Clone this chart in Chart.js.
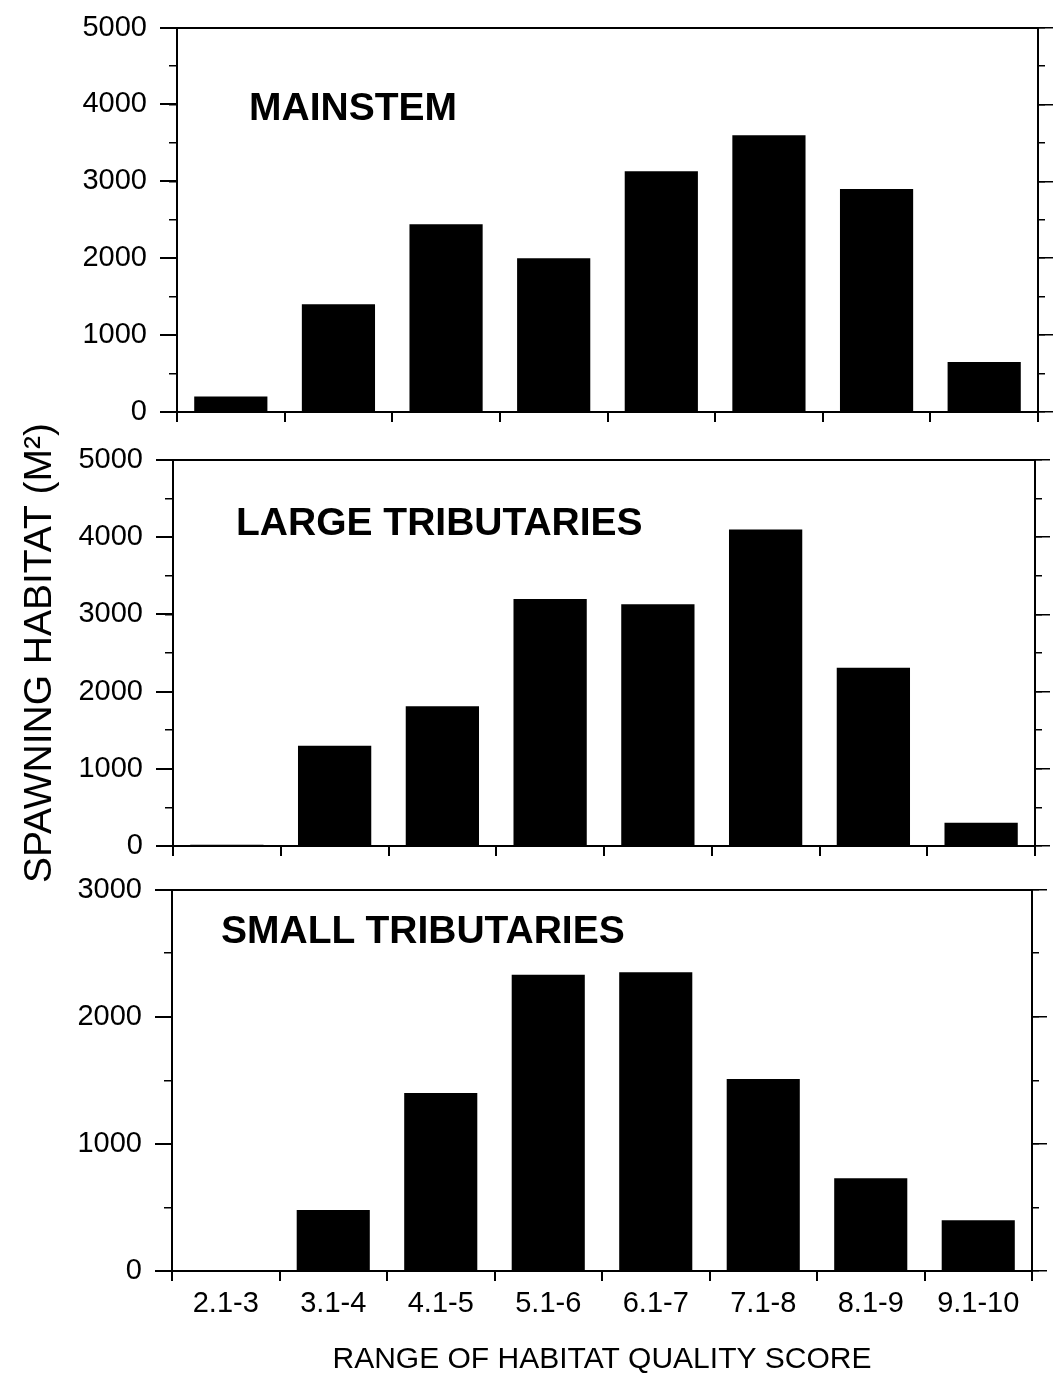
<!DOCTYPE html>
<html>
<head>
<meta charset="utf-8">
<script src="https://cdn.jsdelivr.net/npm/chart.js@4"></script>
<style>
  body { margin: 0; background: #fff; }
  #wrap { position: relative; width: 1055px; height: 1382px; overflow: hidden; font-family: "Liberation Sans", Arial, sans-serif; }
  canvas { position: absolute; left: 0; }
  .lbl { position: absolute; font-weight: bold; font-size: 39px; line-height: 39px; white-space: nowrap; color: #000; }
</style>
</head>
<body>
<div id="wrap">
  <canvas id="c1" width="1055" height="440" style="top:0px"></canvas>
  <canvas id="c2" width="1055" height="520" style="top:400px"></canvas>
  <canvas id="c3" width="1055" height="520" style="top:862px"></canvas>
  <div class="lbl" style="left:249px;top:87px">MAINSTEM</div>
  <div class="lbl" style="left:236px;top:502px">LARGE TRIBUTARIES</div>
  <div class="lbl" style="left:221px;top:910px">SMALL TRIBUTARIES</div>
</div>
<script>
const categories = ['2.1-3', '3.1-4', '4.1-5', '5.1-6', '6.1-7', '7.1-8', '8.1-9', '9.1-10'];
const mainstem = [200, 1400, 2440, 2000, 3130, 3600, 2900, 650];
const largeTributaries = [15, 1300, 1810, 3200, 3130, 4100, 2310, 300];
const smallTributaries = [0, 480, 1400, 2330, 2350, 1510, 730, 400];
const yMaxes = [5000, 5000, 3000];
const yTitle = 'SPAWNING HABITAT (M²)';
const xTitle = 'RANGE OF HABITAT QUALITY SCORE';

Chart.defaults.font.family = "'Liberation Sans', Arial, sans-serif";
Chart.defaults.color = '#000';

const W = 1055;

// minor axes get width 0 so their tick marks sit right on the frame
function makePanel(id, values, yMax, g) {
  const canvas = document.getElementById(id);
  const H = canvas.height;
  return new Chart(canvas, {
    type: 'bar',
    data: {
      labels: categories,
      datasets: [{
        data: values,
        backgroundColor: '#000',
        borderWidth: 0,
        barPercentage: 0.68,
        categoryPercentage: 1
      }]
    },
    options: {
      responsive: false,
      animation: false,
      layout: { padding: { top: g.top, left: 0, right: 0, bottom: 0 } },
      plugins: { legend: { display: false }, tooltip: { enabled: false } },
      scales: {
        x: {
          position: 'bottom',
          grid: { offset: true, drawOnChartArea: false, tickLength: 10, color: '#000', lineWidth: 2 },
          border: { display: true, color: '#000', width: 2 },
          ticks: { display: g.xLabels, font: { size: 29, lineHeight: 1 }, padding: 8, maxRotation: 0 },
          title: {
            display: g.xLabels, text: xTitle,
            font: { size: 30, lineHeight: 1 }, padding: { top: 0, bottom: 7 }
          },
          afterFit: s => { s.height = H - g.bottom; }
        },
        xTop: {
          type: 'category',
          position: 'top',
          grid: { drawOnChartArea: false, drawTicks: false, color: '#000' },
          border: { display: true, color: '#000', width: 2 },
          ticks: { display: false },
          afterFit: s => { s.height = 0; }
        },
        y: {
          position: 'left',
          weight: 1,
          min: 0, max: yMax,
          grid: { drawOnChartArea: false, tickLength: 17, color: '#000', lineWidth: 2 },
          border: { display: true, color: '#000', width: 2 },
          ticks: { stepSize: 1000, font: { size: 29, lineHeight: 1 }, padding: 13, callback: v => String(v) },
          title: {
            display: g.yTitle, text: yTitle,
            font: { size: 39, lineHeight: 1 }, padding: { top: 21, bottom: 0 }
          },
          afterFit: s => { s.width = g.left; }
        },
        yMinor: {
          position: 'left',
          weight: 0,
          min: 0, max: yMax,
          grid: { drawOnChartArea: false, tickLength: 8, color: '#000', lineWidth: 1.5 },
          border: { display: false },
          ticks: { display: false, stepSize: 500 },
          afterFit: s => { s.width = 0; }
        },
        yRight: {
          position: 'right',
          weight: 1,
          min: 0, max: yMax,
          grid: { drawOnChartArea: false, tickLength: 15, color: '#000', lineWidth: 1.5 },
          border: { display: true, color: '#000', width: 2 },
          ticks: { display: false, stepSize: 1000 },
          afterFit: s => { s.width = W - g.right; }
        },
        yRightMinor: {
          position: 'right',
          weight: 0,
          min: 0, max: yMax,
          grid: { drawOnChartArea: false, tickLength: 7, color: '#000', lineWidth: 1.5 },
          border: { display: false },
          ticks: { display: false, stepSize: 500 },
          afterFit: s => { s.width = 0; }
        }
      }
    }
  });
}

makePanel('c1', mainstem, yMaxes[0], { left: 177, right: 1038, top: 24, bottom: 412, xLabels: false, yTitle: false });
makePanel('c2', largeTributaries, yMaxes[1], { left: 173, right: 1035, top: 60, bottom: 446, xLabels: false, yTitle: true });
makePanel('c3', smallTributaries, yMaxes[2], { left: 172, right: 1032, top: 20, bottom: 409, xLabels: true, yTitle: false });
</script>
</body>
</html>
